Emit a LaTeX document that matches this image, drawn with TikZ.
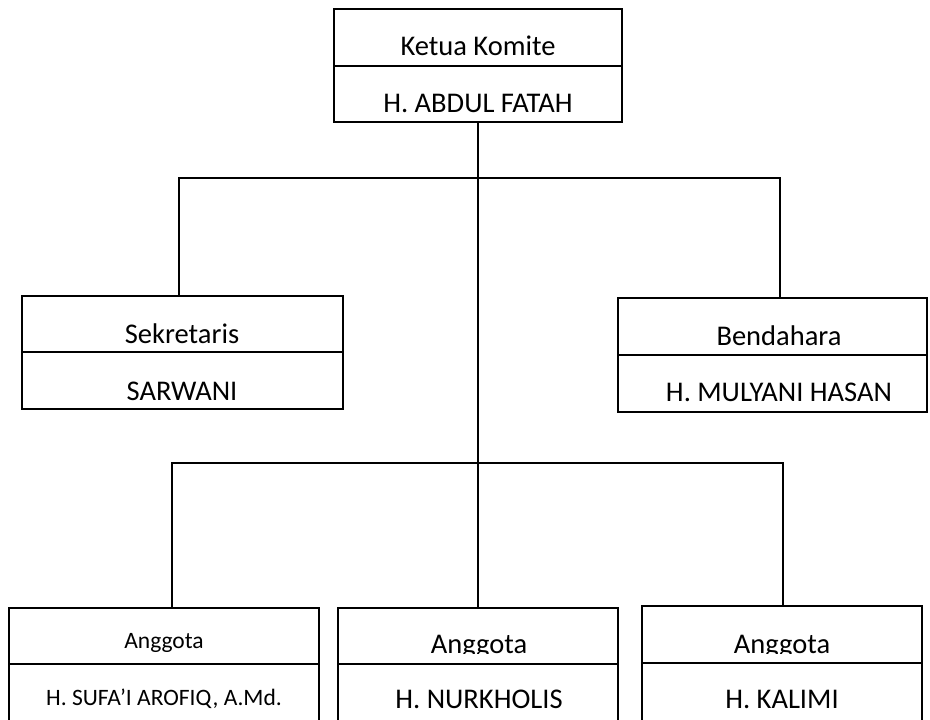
\documentclass[tikz,border=0pt]{standalone}
\usepackage{fontspec}
\setmainfont{Carlito}
\begin{document}
\begin{tikzpicture}[x=1pt,y=-1pt,
  cell/.style={draw=black,line width=1.3pt,fill=none,inner sep=0pt,rectangle},
  lbl/.style={inner sep=0pt,anchor=base,font=\fontsize{28.5}{34}\selectfont},
  lblsmall/.style={inner sep=0pt,anchor=base,font=\fontsize{23.5}{28}\selectfont},
  conn/.style={draw=black,line width=1.3pt}]
\useasboundingbox (0,0) rectangle (930,720);
\clip (0,0) rectangle (930,720);
% Ketua
\node[cell,minimum width=288pt,minimum height=57pt] (ketuaT) at (478,37.5) {};
\node[cell,minimum width=288pt,minimum height=56pt] (ketuaB) at (478,94) {};
\node[lbl] (ketuaL) at (478,55) {Ketua Komite};
\node[lbl] (ketuaN) at (478,112) {H. ABDUL FATAH};
% Sekretaris
\node[cell,minimum width=321pt,minimum height=56pt] (sekT) at (182.5,324) {};
\node[cell,minimum width=321pt,minimum height=57pt] (sekB) at (182.5,380.5) {};
\node[lbl] (sekL) at (182,343) {Sekretaris};
\node[lbl] (sekN) at (182,400) {SARWANI};
% Bendahara
\node[cell,minimum width=309pt,minimum height=57pt] (benT) at (772.5,326.5) {};
\node[cell,minimum width=309pt,minimum height=57pt] (benB) at (772.5,383.5) {};
\node[lbl] (benL) at (779,345) {Bendahara};
\node[lbl] (benN) at (779,401) {H. MULYANI HASAN};
% Anggota 1
\node[cell,minimum width=310pt,minimum height=56pt] (a1T) at (164,636) {};
\node[cell,minimum width=310pt,minimum height=76pt] (a1B) at (164,702) {};
\node[lblsmall] (a1L) at (164,648) {Anggota};
\node[lblsmall] (a1N) at (164,705) {H. SUFA’I AROFIQ, A.Md.};
% Anggota 2
\node[cell,minimum width=280pt,minimum height=56pt] (a2T) at (478,636) {};
\node[cell,minimum width=280pt,minimum height=76pt] (a2B) at (478,702) {};
\begin{scope}
\clip (340,609) rectangle (616,653.5);
\node[lbl] (a2L) at (479,653) {Anggota};
\end{scope}
\node[lbl] (a2N) at (479,708) {H. NURKHOLIS};
% Anggota 3
\node[cell,minimum width=280pt,minimum height=57pt] (a3T) at (782,634.5) {};
\node[cell,minimum width=280pt,minimum height=77pt] (a3B) at (782,701.5) {};
\begin{scope}
\clip (644,607) rectangle (920,653.5);
\node[lbl] (a3L) at (782,653) {Anggota};
\end{scope}
\node[lbl] (a3N) at (782,708) {H. KALIMI};
% connectors
\coordinate (L1) at (179,178);
\coordinate (R1) at (780,178);
\coordinate (L2) at (172,463);
\coordinate (R2) at (783,463);
\draw[conn] (ketuaB.south) -- (a2T.north);
\draw[conn] (sekT.north -| L1) -- (L1) -- (R1) -- (R1 |- benT.north);
\draw[conn] (a1T.north -| L2) -- (L2) -- (R2) -- (R2 |- a3T.north);
\end{tikzpicture}
\end{document}
